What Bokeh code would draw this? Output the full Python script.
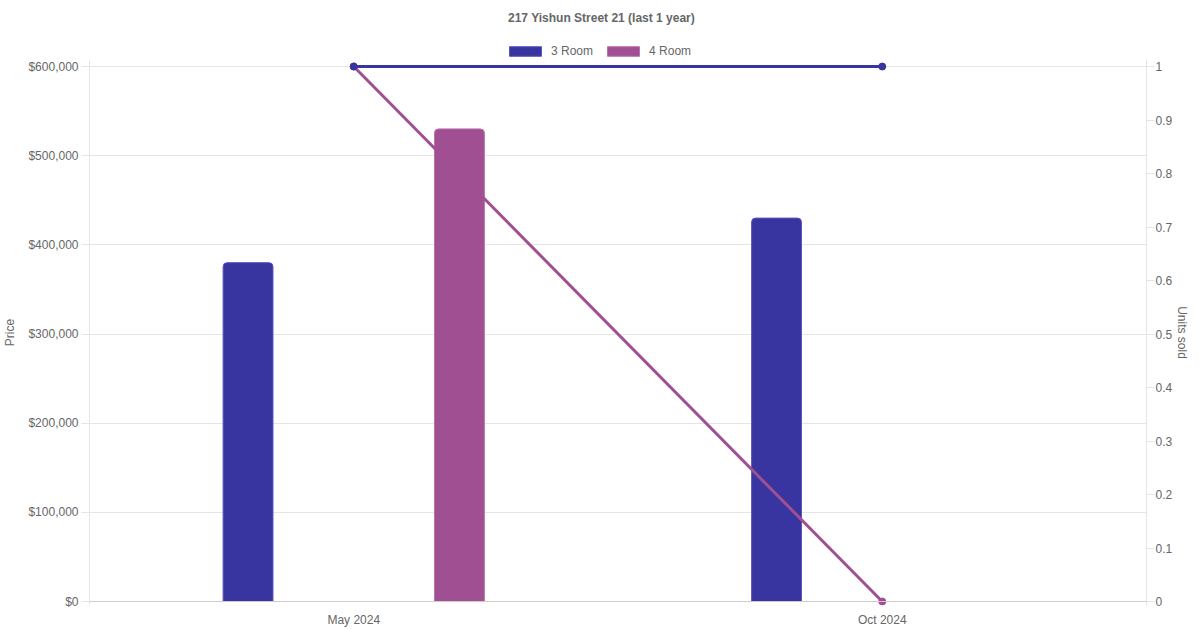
import math
from bokeh.plotting import figure
from bokeh.layouts import column
from bokeh.models import (FactorRange, Range1d, LinearAxis, NumeralTickFormatter,
                          FixedTicker, Legend, LegendItem, Label, Span, ColumnDataSource)
from bokeh.transform import dodge
from bokeh.embed import file_html
from bokeh.resources import INLINE

# ---- data ----
months = ["May 2024", "Oct 2024"]
series = ["3 Room", "4 Room"]
price_3room = [380000, 430000]
price_4room = [530000, float("nan")]
units_3room = [1, 1]
units_4room = [1, 0]
price_ticks = [0, 100000, 200000, 300000, 400000, 500000, 600000]
unit_ticks = [0, 0.1, 0.2, 0.3, 0.4, 0.5, 0.6, 0.7, 0.8, 0.9, 1]
price_max = 600000
units_max = 1
colors = ["#3835a0", "#a05092"]
border_colors = ["#5a56c0", "#b874aa"]
title_text = "217 Yishun Street 21 (last 1 year)"

FONT = "Liberation Sans"
TXT = "#666666"
GRID = "#e5e5e5"

W = 1192
HEADER_H = 58
LEFT = 80
PLOT_PX = 535            # pixel height of the 0..max span
PAD_TOP, PAD_BOT = 7, 4  # breathing room so end markers are not clipped
FRAME_H = PLOT_PX + PAD_TOP + PAD_BOT
MAIN_H = 1 + FRAME_H + 24

# ---- header: title + legend (frame aligned with the chart frame) ----
hdr = figure(width=W, height=HEADER_H, x_range=Range1d(0, 1), y_range=Range1d(0, 1),
             output_backend="svg", toolbar_location=None, title=None,
             min_border=0, min_border_left=LEFT, outline_line_color=None)
hdr.axis.visible = False
hdr.grid.visible = False
# legend swatches: hidden renderers that only lend their style to the legend
sw = ColumnDataSource(dict(x=[0.5], top=[1]))
h3 = hdr.vbar(x="x", top="top", width=0.1, source=sw, visible=False,
              fill_color=colors[0], line_color=border_colors[0], line_width=1)
h4 = hdr.vbar(x="x", top="top", width=0.1, source=sw, visible=False,
              fill_color=colors[1], line_color=border_colors[1], line_width=1)
hdr.add_layout(Label(x=600 - 8 - LEFT, y=HEADER_H - 17, x_units="screen", y_units="screen",
                     text=title_text, text_align="center", text_baseline="middle",
                     text_font=FONT, text_font_size="12px", text_font_style="bold",
                     text_color=TXT))
legend = Legend(items=[LegendItem(label=series[0], renderers=[h3]),
                       LegendItem(label=series[1], renderers=[h4])],
                orientation="horizontal", location=(504 - 8 - LEFT, 0),
                glyph_width=40, glyph_height=12, label_height=12,
                label_text_font=FONT, label_text_font_size="12px", label_text_color=TXT,
                label_standoff=6, spacing=10, padding=2, margin=0,
                inactive_fill_alpha=0,
                border_line_color=None, background_fill_alpha=0)
hdr.add_layout(legend)

# ---- main chart ----
src = ColumnDataSource(dict(month=months, p3=price_3room, p4=price_4room,
                            u3=units_3room, u4=units_4room))

p_lo = -price_max * PAD_BOT / PLOT_PX
p_hi = price_max * (1 + PAD_TOP / PLOT_PX)
u_lo = -units_max * PAD_BOT / PLOT_PX
u_hi = units_max * (1 + PAD_TOP / PLOT_PX)

p = figure(width=W, height=MAIN_H, x_range=FactorRange(*months),
           y_range=Range1d(p_lo, p_hi), output_backend="svg", toolbar_location=None,
           title=None, min_border_left=LEFT, min_border_right=45,
           min_border_top=1, min_border_bottom=21, outline_line_color=None,
           background_fill_color="white", border_fill_color="white")
p.x_range.range_padding = 0
p.extra_y_ranges = {"units": Range1d(u_lo, u_hi)}

bw = 0.0944
b3 = p.vbar(x=dodge("month", -0.2, range=p.x_range), top="p3", width=bw, source=src,
            fill_color=colors[0], line_color=border_colors[0], line_width=1,
            border_radius=(4, 4, 0, 0))
b4 = p.vbar(x=dodge("month", 0.2, range=p.x_range), top="p4", width=bw, source=src,
            fill_color=colors[1], line_color=border_colors[1], line_width=1,
            border_radius=(4, 4, 0, 0))

p.add_layout(Span(location=0, dimension="width", line_color="#cccccc", line_width=1))

# 4 Room line first so the 3 Room line sits on top
p.line(x="month", y="u4", source=src, y_range_name="units", line_color=colors[1], line_width=3)
p.scatter(x="month", y="u4", source=src, y_range_name="units", size=7,
          fill_color=colors[1], line_color=colors[1])
p.line(x="month", y="u3", source=src, y_range_name="units", line_color=colors[0], line_width=3)
p.scatter(x="month", y="u3", source=src, y_range_name="units", size=7,
          fill_color=colors[0], line_color=colors[0])

# axes
yax = p.yaxis[0]
yax.ticker = FixedTicker(ticks=price_ticks)
yax.formatter = NumeralTickFormatter(format="$0,0")
yax.axis_label = "Price"
yax.minor_tick_line_color = None
yax.major_tick_in = 0
yax.major_tick_out = 8
yax.major_tick_line_color = GRID
yax.axis_line_color = GRID
yax.major_label_standoff = 3
yax.axis_label_standoff = 8

rax = LinearAxis(y_range_name="units", ticker=FixedTicker(ticks=unit_ticks),
                 formatter=NumeralTickFormatter(format="0.[0]"), axis_label="Units sold")
rax.minor_tick_line_color = None
rax.major_tick_in = 0
rax.major_tick_out = 8
rax.major_tick_line_color = GRID
rax.axis_line_color = GRID
rax.major_label_standoff = 1
rax.axis_label_standoff = 0
p.add_layout(rax, "right")

xax = p.xaxis[0]
xax.major_tick_line_color = None
xax.minor_tick_line_color = None
xax.major_tick_in = 0
xax.major_tick_out = 0
xax.axis_line_color = None
xax.major_label_standoff = 7

for ax in (yax, rax, xax):
    ax.major_label_text_font = FONT
    ax.major_label_text_font_size = "12px"
    ax.major_label_text_color = TXT
    ax.axis_label_text_font = FONT
    ax.axis_label_text_font_size = "12px"
    ax.axis_label_text_color = TXT
    ax.axis_label_text_font_style = "normal"

p.xgrid.visible = False
p.ygrid.grid_line_color = GRID

layout = column(hdr, p, spacing=0)
open("out.html", "w").write(file_html(layout, INLINE))
